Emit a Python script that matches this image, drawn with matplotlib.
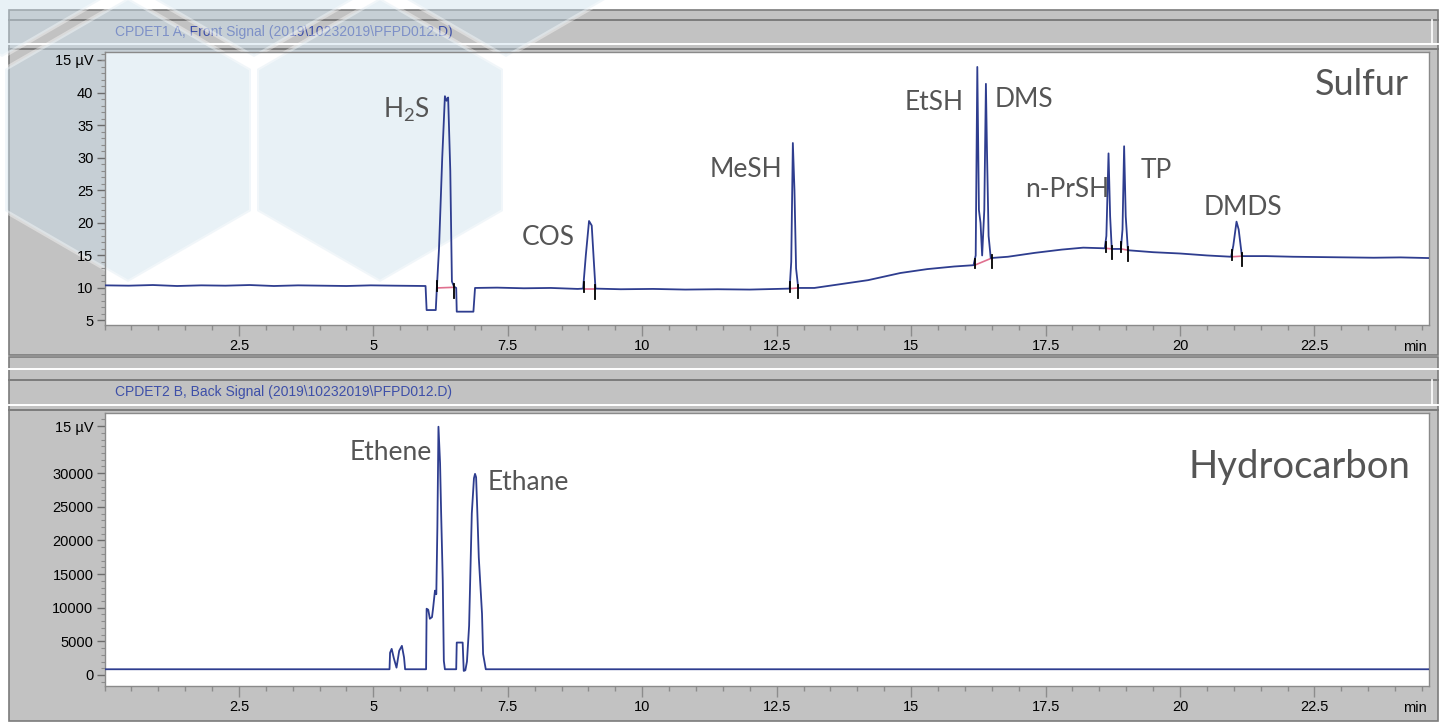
import matplotlib
matplotlib.use("Agg")
import matplotlib.pyplot as plt
from matplotlib.patches import Rectangle, RegularPolygon
from matplotlib.ticker import FixedLocator, MultipleLocator

plt.rcParams["font.family"] = ["Liberation Sans", "DejaVu Sans"]

# ── data ─────────────────────────────────────────────────────────────────────

# front signal (sulfur, PFPD), time in min
sulfur_time = [0.00, 0.45, 0.90, 1.35, 1.80, 2.25, 2.70, 3.15, 3.60, 4.05, 4.50, 4.95, 5.40, 5.97,
               5.99, 6.16, 6.18, 6.22, 6.28, 6.33, 6.36, 6.39, 6.43, 6.46, 6.50, 6.54, 6.55, 6.86, 6.89,
               7.30, 7.80, 8.30, 8.80, 8.90,
               8.95, 9.01, 9.06, 9.10, 9.13,
               9.60, 10.20, 10.80, 11.40, 12.00, 12.50, 12.74,
               12.77, 12.80, 12.83, 12.86, 12.90,
               13.20, 13.70, 14.20, 14.80, 15.30, 15.80, 16.16,
               16.20, 16.23, 16.26, 16.29, 16.32, 16.36, 16.39, 16.41, 16.44, 16.48,
               16.80, 17.30, 17.80, 18.20, 18.60,
               18.63, 18.67, 18.70, 18.73,
               18.90, 18.93, 18.96, 18.99, 19.03,
               19.50, 20.00, 20.50, 20.95,
               20.99, 21.05, 21.09, 21.15,
               21.60, 22.10, 22.60, 23.10, 23.60, 24.10, 24.62]
sulfur_signal = [10.4, 10.35, 10.45, 10.3, 10.4, 10.35, 10.45, 10.3, 10.4, 10.35, 10.3, 10.4, 10.35, 10.3,
                 6.6, 6.6, 10.0, 16.0, 30.0, 39.5, 38.8, 39.3, 28.0, 11.0, 10.2, 10.0, 6.35, 6.35, 10.0,
                 10.05, 9.95, 10.0, 9.85, 9.9,
                 15.0, 20.3, 19.6, 14.0, 9.9,
                 9.8, 9.85, 9.75, 9.8, 9.75, 9.85, 9.9,
                 14.0, 32.3, 25.0, 13.0, 10.0,
                 10.0, 10.6, 11.2, 12.3, 12.9, 13.3, 13.5,
                 15.0, 44.0, 22.0, 20.0, 15.0, 22.0, 41.4, 31.0, 18.0, 14.6,
                 14.8, 15.4, 15.9, 16.2, 16.1,
                 18.0, 30.7, 21.0, 16.0,
                 16.0, 19.0, 31.8, 21.0, 15.8,
                 15.5, 15.3, 15.0, 14.8,
                 16.5, 20.2, 19.0, 14.9,
                 14.9, 14.8, 14.75, 14.7, 14.65, 14.7, 14.6]

# integration baselines of the sulfur peaks
int_start = [6.18, 8.92, 12.75, 16.18, 18.62, 18.91, 20.97]
int_end = [6.50, 9.13, 12.90, 16.50, 18.74, 19.04, 21.16]
int_base_start = [10.0, 9.9, 9.9, 13.5, 16.1, 16.0, 14.8]
int_base_end = [10.1, 9.9, 10.0, 14.6, 16.0, 15.8, 14.9]

# back signal (hydrocarbon)
hc_time = [0.00, 5.30, 5.31, 5.34, 5.38, 5.43, 5.48, 5.53, 5.57, 5.59,
           5.98, 5.99, 6.02, 6.05, 6.09, 6.11, 6.145, 6.17, 6.19, 6.21, 6.24, 6.26, 6.29, 6.31, 6.33,
           6.54, 6.55, 6.66, 6.68, 6.71, 6.74, 6.78, 6.83, 6.87, 6.89, 6.91, 6.93, 6.96, 7.02, 7.04, 7.09,
           24.62]
hc_signal = [850, 850, 3300, 3880, 2500, 1090, 3600, 4330, 2600, 850,
             850, 9850, 9700, 8360, 8600, 9900, 12540, 12000, 22000, 36910, 31490, 24000, 14030, 2090, 850,
             850, 4820, 4820, 600, 700, 2000, 7310, 24030, 29250, 29900, 29400, 24920, 17460, 9100, 3130, 850,
             850]

# peak names and label anchor (left, baseline) in data units
sulfur_labels = ["H$_\\mathregular{2}$S", "COS", "MeSH", "EtSH", "DMS", "n-PrSH", "TP", "DMDS"]
sulfur_label_x = [5.18, 7.76, 11.26, 14.88, 16.56, 17.12, 19.26, 20.43]
sulfur_label_y = [36.15, 16.6, 27.1, 37.4, 37.85, 24.0, 26.9, 21.2]
hc_labels = ["Ethene", "Ethane"]
hc_label_x = [4.55, 7.13]
hc_label_y = [31940, 27460]

x_ticks = [2.5, 5, 7.5, 10, 12.5, 15, 17.5, 20, 22.5]
x_tick_labels = ["2.5", "5", "7.5", "10", "12.5", "15", "17.5", "20", "22.5"]
sulfur_yticks = [5, 10, 15, 20, 25, 30, 35, 40, 45.1]
sulfur_ytick_labels = ["5", "10", "15", "20", "25", "30", "35", "40", "15 µV"]
hc_yticks = [0, 5000, 10000, 15000, 20000, 25000, 30000, 37000]
hc_ytick_labels = ["0", "5000", "10000", "15000", "20000", "25000", "30000", "15 µV"]

titles = [r"CPDET1 A, Front Signal (2019\10232019\PFPD012.D)",
          r"CPDET2 B, Back Signal (2019\10232019\PFPD012.D)"]

# ── styling ──────────────────────────────────────────────────────────────────
W, H = 1440, 723
GRAY = "#c2c2c2"
DARK = "#7c7c7c"
TRACE = "#2e3d8f"
TITLE_BLUE = "#3d4fa8"
LABEL = "#555555"
PLOT_L, PLOT_R = 104.5, 1428.5
PLOTS_Y = [(52, 325), (413, 686)]

fig = plt.figure(figsize=(W / 100, H / 100), dpi=100)
fig.patch.set_facecolor("white")

# window frame + white plot areas, drawn in pixel coordinates
bg = fig.add_axes([0, 0, 1, 1], zorder=0)
bg.set_xlim(0, W)
bg.set_ylim(H, 0)
bg.axis("off")
bg.add_patch(Rectangle((9, 10), 1429, 345, facecolor=GRAY, edgecolor=DARK, lw=1.2))
bg.add_patch(Rectangle((9, 357), 1429, 364, facecolor=GRAY, edgecolor=DARK, lw=1.2))
for y, c in [(20, DARK), (44, "white"), (49, DARK),
             (369, "white"), (380, DARK), (405, "white"), (410, DARK)]:
    bg.plot([9, 1438], [y, y], color=c, lw=1.4)
for y0, y1 in [(20, 44), (380, 405)]:
    bg.plot([1432, 1432], [y0, y1], color="white", lw=1.2)
for y0, y1 in PLOTS_Y:
    bg.add_patch(Rectangle((PLOT_L, y0), PLOT_R - PLOT_L, y1 - y0, facecolor="white",
                           edgecolor="none"))
bg.text(115, 32, titles[0], color=TITLE_BLUE, fontsize=10, va="center", ha="left")
bg.text(115, 392, titles[1], color=TITLE_BLUE, fontsize=10, va="center", ha="left")

# pale hexagon watermark, under the traces and labels
wm = fig.add_axes([0, 0, 1, 1], zorder=1)
wm.set_xlim(0, W)
wm.set_ylim(H, 0)
wm.axis("off")
wm.patch.set_alpha(0)
for cx, cy in [(128, 140), (380, 140), (2, -85), (254, -85), (506, -85)]:
    wm.add_patch(RegularPolygon((cx, cy), numVertices=6, radius=142, orientation=0,
                                facecolor=(0.80, 0.88, 0.93, 0.45),
                                edgecolor=(1, 1, 1, 0.4), lw=3))

ax1 = fig.add_axes([PLOT_L / W, 1 - 325 / H, (PLOT_R - PLOT_L) / W, 273 / H], zorder=2)
ax2 = fig.add_axes([PLOT_L / W, 1 - 686 / H, (PLOT_R - PLOT_L) / W, 273 / H], zorder=2)


def style_axis(ax, yticks, ylabels, yminor):
    ax.patch.set_alpha(0)
    ax.set_xlim(0, 24.62)
    ax.xaxis.set_major_locator(FixedLocator(x_ticks))
    ax.set_xticklabels(x_tick_labels)
    ax.xaxis.set_minor_locator(MultipleLocator(0.5))
    ax.yaxis.set_major_locator(FixedLocator(yticks))
    ax.set_yticklabels(ylabels)
    ax.yaxis.set_minor_locator(MultipleLocator(yminor))
    ax.tick_params(axis="x", which="major", direction="out", length=8, width=1,
                   color="#8c8c8c", labelsize=10.5, pad=2)
    ax.tick_params(axis="x", which="minor", direction="out", length=3.5, width=1, color="#8c8c8c")
    ax.tick_params(axis="y", which="major", direction="out", length=6, width=1,
                   color="#6c6c6c", labelsize=10.5, pad=2)
    ax.tick_params(axis="y", which="minor", direction="out", length=3, width=0.8, color="#8c8c8c")
    for s in ax.spines.values():
        s.set_color("#8a8a8a")
        s.set_linewidth(1)
    ax.annotate("min", xy=(1, 0), xycoords="axes fraction", xytext=(-1, -10.5),
                textcoords="offset points", ha="right", va="top", fontsize=10.5)


# sulfur panel
style_axis(ax1, sulfur_yticks, sulfur_ytick_labels, 1)
ax1.set_ylim(4.3, 46.3)
ax1.plot(sulfur_time, sulfur_signal, color=TRACE, lw=1.3, zorder=3)
for t0, t1, b0, b1 in zip(int_start, int_end, int_base_start, int_base_end):
    ax1.plot([t0, t1], [b0, b1], color="#e0708f", lw=1.2, zorder=2)
    ax1.plot([t0, t0], [b0 - 0.5, b0 + 1.0], color="black", lw=1.3, zorder=4)
    ax1.plot([t1, t1], [b1 - 1.6, b1 + 0.5], color="black", lw=1.3, zorder=4)
for name, x, y in zip(sulfur_labels, sulfur_label_x, sulfur_label_y):
    ax1.text(x, y, name, fontsize=19, color=LABEL, family="Lato", va="baseline", ha="left")
ax1.text(22.51, 39.7, "Sulfur", fontsize=26, color=LABEL, family="Lato", va="baseline", ha="left")

# hydrocarbon panel
style_axis(ax2, hc_yticks, hc_ytick_labels, 1000)
ax2.set_ylim(-1640, 38950)
ax2.plot(hc_time, hc_signal, color=TRACE, lw=1.3, zorder=3)
for name, x, y in zip(hc_labels, hc_label_x, hc_label_y):
    ax2.text(x, y, name, fontsize=19, color=LABEL, family="Lato", va="baseline", ha="left")
ax2.text(20.15, 29250, "Hydrocarbon", fontsize=27.5, color=LABEL, family="Lato",
         va="baseline", ha="left")

fig.savefig("out.png", dpi=100)
